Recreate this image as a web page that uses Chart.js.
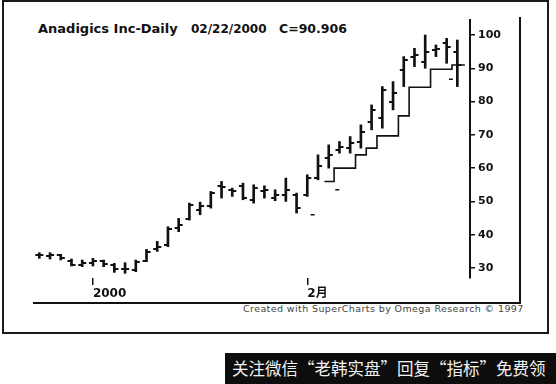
<!DOCTYPE html>
<html>
<head>
<meta charset="utf-8">
<script src="https://cdn.jsdelivr.net/npm/chart.js@4.4.0/dist/chart.umd.min.js"></script>
<style>
  html, body { margin: 0; padding: 0; background: #fff; }
  body { width: 556px; height: 384px; position: relative; overflow: hidden; font-family: 'DejaVu Sans', sans-serif; }
  .frame { position: absolute; left: 2px; top: 0; width: 543px; height: 330px; border: 2px solid #1a1a1a; }
  .box-right { position: absolute; left: 519px; top: 17px; width: 2px; height: 287px; background: #111; }
  .box-bottom { position: absolute; left: 33px; top: 302px; width: 488px; height: 2px; background: #111; }
  .title { position: absolute; top: 21px; font: bold 13px 'DejaVu Sans', sans-serif; color: #111; white-space: nowrap; line-height: 16px; }
  .credit { position: absolute; left: 243px; top: 303px; font: 9.5px 'DejaVu Sans', sans-serif; color: #444; white-space: nowrap;
            line-height: 11px; letter-spacing: 0.4px; }
  .banner { position: absolute; left: 225px; top: 353px; width: 331px; height: 31px; background: #0d0d0d; color: #f2f2f2;
            font: 16.5px 'Noto Sans CJK SC', sans-serif; line-height: 31px; padding-left: 7px; box-sizing: border-box; white-space: nowrap; }
  #wrap { position: absolute; left: 0; top: 0; width: 556px; height: 384px; }
</style>
</head>
<body>
<div class="frame"></div>
<div class="box-right"></div>
<div class="box-bottom"></div>
<div class="title" style="left:38px">Anadigics Inc-Daily</div>
<div class="title" style="left:191px; font-size:12px">02/22/2000</div>
<div class="title" style="left:279px; font-size:12.5px">C=90.906</div>
<div class="credit">Created with SuperCharts by Omega Research © 1997</div>
<div class="banner">关注微信“老韩实盘”回复“指标”免费领</div>
<div id="wrap"><canvas id="ohlc" width="556" height="384"></canvas></div>

<script>
/* Anadigics daily bars with trailing stop line */

// --- data (bar number = trading day, 1 .. 40) ---
var days = [1, 2, 3, 4, 5, 6, 7, 8, 9, 10, 11, 12, 13, 14, 15, 16, 17, 18, 19, 20,
            21, 22, 23, 24, 25, 26, 27, 28, 29, 30, 31, 32, 33, 34, 35, 36, 37, 38, 39, 40];
var highs = [34.6, 34.6, 34.1, 32.7, 32.4, 32.9, 32.4, 31.4, 31.6, 32.4, 35.6, 38.0, 42.4, 44.9, 49.5, 49.8, 53.0, 56.0, 54.0, 55.5,
             55.0, 54.7, 53.5, 57.0, 52.5, 58.0, 64.0, 67.0, 68.0, 69.5, 73.0, 79.0, 84.5, 86.0, 93.5, 96.0, 100.0, 97.0, 99.0, 98.5];
var lows  = [32.9, 32.7, 32.4, 30.6, 30.4, 30.6, 30.4, 28.7, 28.4, 28.9, 31.9, 35.0, 36.4, 40.9, 44.4, 46.0, 48.0, 51.0, 51.5, 50.5,
             49.5, 51.0, 50.2, 50.0, 46.5, 51.5, 56.5, 60.0, 64.5, 64.5, 66.0, 71.5, 72.0, 77.5, 84.5, 90.5, 90.0, 93.5, 91.5, 84.5];
var opens = [34.0, 33.6, 33.8, 32.2, 31.0, 31.4, 32.0, 31.0, 29.8, 29.4, 32.2, 35.6, 36.8, 42.0, 44.8, 47.5, 48.5, 54.5, 53.5, 54.5,
             50.5, 53.0, 51.0, 52.0, 52.0, 52.0, 57.0, 63.0, 65.5, 66.0, 68.0, 74.0, 75.0, 80.0, 89.5, 93.5, 92.0, 95.5, 97.5, 95.0];
var closes = [33.8, 33.9, 33.0, 31.0, 31.6, 32.2, 31.2, 29.6, 29.6, 31.8, 34.8, 36.4, 41.8, 43.0, 49.0, 48.5, 52.5, 54.2, 53.2, 51.0,
              54.0, 53.5, 52.0, 53.5, 48.0, 57.0, 60.5, 64.0, 66.5, 67.5, 71.0, 77.5, 83.5, 82.5, 92.5, 94.0, 95.0, 95.8, 96.5, 90.906];

// trailing stop (starts on day 28, runs a little past the last bar)
var stopDays = [27.6, 28, 29, 30, 31, 32, 33, 34, 35, 36, 37, 38, 39, 40, 40.7];
var stopValues = [56, 56, 60, 60, 64, 66, 69.7, 69.7, 75.7, 84.3, 84.3, 89.7, 89.7, 91, 91];

// stray single marks under the bars
var markDays = [26.5, 28.8, 39.4];
var markValues = [46, 53.5, 86.7];

var xTickValues = [6, 26];
var xTickLabels = ['2000', '2月'];
var yTicks = [30, 40, 50, 60, 70, 80, 90, 100];

(function () {
  'use strict';

  var ink = '#111111';
  var labelFont = "'DejaVu Sans', 'Noto Sans CJK SC', sans-serif";

  // small open / close ticks drawn as point images
  function tickImage(side) {
    var c = document.createElement('canvas');
    c.width = 10;
    c.height = 2;
    var g = c.getContext('2d');
    g.fillStyle = ink;
    g.fillRect(side === 'left' ? 1 : 5, 0, 4, 2);
    return c;
  }
  var openTick = tickImage('left');
  var closeTick = tickImage('right');

  function pairs(xs, ys) {
    return xs.map(function (x, i) { return { x: x, y: ys[i] }; });
  }

  new Chart(document.getElementById('ohlc'), {
    type: 'bar',
    data: {
      datasets: [
        {
          type: 'bar',
          label: 'Range',
          data: days.map(function (d, i) { return { x: d, y: [lows[i], highs[i]] }; }),
          backgroundColor: ink,
          borderWidth: 0,
          barThickness: 2,
          grouped: false
        },
        {
          type: 'scatter',
          label: 'Open',
          data: pairs(days, opens),
          pointStyle: openTick,
          pointRadius: 5
        },
        {
          type: 'scatter',
          label: 'Close',
          data: pairs(days, closes),
          pointStyle: closeTick,
          pointRadius: 5
        },
        {
          type: 'line',
          label: 'Stop',
          data: pairs(stopDays, stopValues),
          borderColor: ink,
          borderWidth: 1.6,
          stepped: 'middle',
          pointRadius: 0,
          fill: false
        },
        {
          type: 'scatter',
          label: 'Marks',
          data: pairs(markDays, markValues),
          pointStyle: 'line',
          pointRadius: 2,
          borderColor: ink,
          borderWidth: 1.5
        }
      ]
    },
    options: {
      responsive: false,
      animation: false,
      devicePixelRatio: 1,
      layout: { padding: { top: 20, left: 33, right: 0, bottom: 0 } },
      scales: {
        x: {
          type: 'linear',
          min: 0.41,
          max: 41.18,
          offset: false,
          grid: { drawOnChartArea: false, offset: false, tickLength: 7, color: ink, lineWidth: 1.5 },
          border: { display: false },
          ticks: {
            align: 'start',
            padding: 2,
            color: ink,
            font: { family: labelFont, weight: 'bold', size: 12 },
            callback: function (val) {
              var k = xTickValues.indexOf(val);
              return k >= 0 ? xTickLabels[k] : '';
            }
          },
          afterBuildTicks: function (scale) {
            scale.ticks = xTickValues.map(function (v) { return { value: v }; });
          },
          afterFit: function (scale) { scale.height = 106; }
        },
        y: {
          type: 'linear',
          position: 'right',
          min: 27,
          max: 104.5,
          grid: { drawOnChartArea: false, tickLength: 5, color: ink, lineWidth: 1.5 },
          border: { color: ink, width: 2 },
          ticks: {
            padding: 3,
            color: ink,
            font: { family: labelFont, weight: 'bold', size: 11 }
          },
          afterBuildTicks: function (scale) {
            scale.ticks = yTicks.map(function (v) { return { value: v }; });
          },
          afterFit: function (scale) { scale.width = 86; }
        }
      },
      plugins: {
        legend: { display: false },
        tooltip: { enabled: false }
      }
    }
  });
})();
</script>
</body>
</html>
